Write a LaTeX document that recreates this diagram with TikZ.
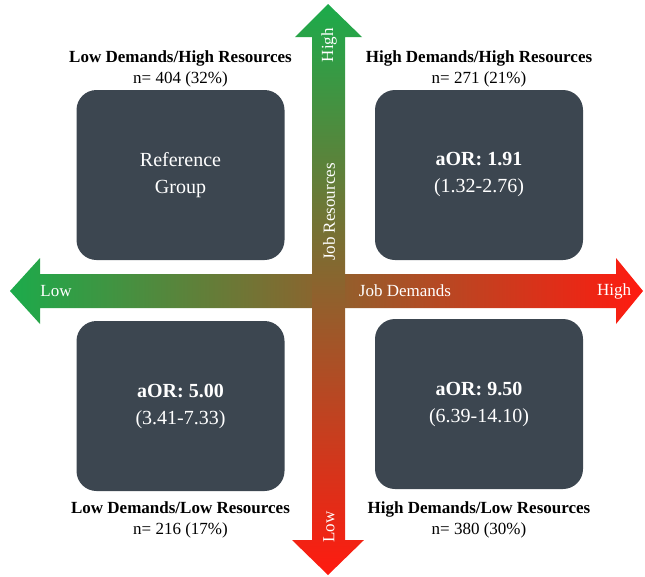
\documentclass[tikz,border=0pt]{standalone}
\usepackage{fontspec}
\setmainfont{Liberation Serif}
\usetikzlibrary{positioning}
\definecolor{boxgray}{HTML}{3C4650}
\definecolor{arrgreen}{HTML}{1CAB4B}
\definecolor{arrmid}{HTML}{BC7436}
\definecolor{arrred}{HTML}{FF1A10}
\tikzstyle{qbox} = [rectangle, fill=boxgray, rounded corners=20pt, text=white,
    align=center, minimum width=208pt, minimum height=170pt,
    font=\fontsize{20}{27}\selectfont]
\tikzstyle{grp} = [align=center, inner sep=1pt, font=\fontsize{17}{21}\selectfont]
\tikzstyle{arrtext} = [text=white, inner sep=1pt, font=\fontsize{17}{19}\selectfont]

\begin{document}
\begin{tikzpicture}[x=1pt,y=-1pt]
  \useasboundingbox (0,0) rectangle (645,576);

  % axes
  \path[left color=arrgreen, middle color=arrmid, right color=arrred]
    (10,291) -- (40,258) -- (40,274) -- (616,274) -- (616,258) -- (643,291)
    -- (616,324) -- (616,308) -- (40,308) -- (40,324) -- cycle;
  \path[top color=arrgreen, middle color=arrmid, bottom color=arrred]
    (328,4) -- (362,37) -- (345,37) -- (345,540) -- (364,540) -- (328,575)
    -- (292,540) -- (312,540) -- (312,37) -- (295,37) -- cycle;

  \node[arrtext, rotate=90]  (yhigh) at (329,45)  {High};
  \node[arrtext, rotate=90]  (ylow)  at (329,527) {Low};
  \node[arrtext, rotate=90]  (yname) at (329,212) {Job Resources};
  \node[arrtext]             (xlow)  at (56,291)  {Low};
  \node[arrtext]             (xname) at (405,291) {Job Demands};
  \node[arrtext]             (xhigh) at (614,291) {High};

  % quadrants
  \node[qbox] (tl) at (180.5,175) {Reference\\Group};
  \node[qbox] (tr) at (479,175)   {\textbf{aOR: 1.91}\\(1.32-2.76)};
  \node[qbox] (bl) at (180.5,406) {\textbf{aOR: 5.00}\\(3.41-7.33)};
  \node[qbox] (br) at (479,404)   {\textbf{aOR: 9.50}\\(6.39-14.10)};

  \node[grp] (tllab) [above=1pt of tl] {\textbf{Low Demands/High Resources}\\n= 404 (32\%)};
  \node[grp] (trlab) [above=1pt of tr] {\textbf{High Demands/High Resources}\\n= 271 (21\%)};
  \node[grp] (bllab) [below=9pt of bl] {\textbf{Low Demands/Low Resources}\\n= 216 (17\%)};
  \node[grp] (brlab) [below=11pt of br] {\textbf{High Demands/Low Resources}\\n= 380 (30\%)};
\end{tikzpicture}
\end{document}
